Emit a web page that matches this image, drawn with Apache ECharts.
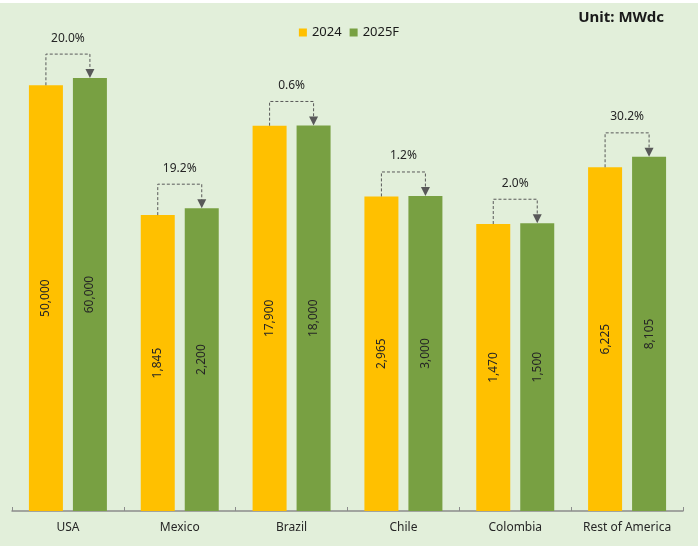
<!DOCTYPE html>
<html>
<head>
<meta charset="utf-8">
<script src="https://cdn.jsdelivr.net/npm/echarts@6/dist/echarts.min.js"></script>
<style>
  html, body { margin: 0; padding: 0; background: #fff; }
  #chart { width: 698px; height: 546px; }
</style>
</head>
<body>
<div id="chart"></div>
<script>
const regions = ['USA', 'Mexico', 'Brazil', 'Chile', 'Colombia', 'Rest of America'];
const values2024 = [50000, 1845, 17900, 2965, 1470, 6225];
const values2025 = [60000, 2200, 18000, 3000, 1500, 8105];
const growthLabels = ['20.0%', '19.2%', '0.6%', '1.2%', '2.0%', '30.2%'];

const YELLOW = '#FFC000';
const GREEN = '#78A042';
const FONT = '"Noto Sans", sans-serif';

const chart = echarts.init(document.getElementById('chart'));

// bar width / gap as fractions of the category band
const BAR_FRAC = 0.304;
const GAP_FRAC = 0.294;

const bracketData = regions.map((r, i) => [i, values2024[i], values2025[i], growthLabels[i]]);

const renderBracket = (params, api) => {
  const i = api.value(0);
  const band = api.size([1, 0])[0];
  const bw = band * BAR_FRAC;
  const off = (bw + bw * GAP_FRAC) / 2;
  const p1 = api.coord([i, api.value(1)]);
  const p2 = api.coord([i, api.value(2)]);
  const x1 = p1[0] - off;
  const x2 = p1[0] + off;
  const yTop = Math.min(p1[1], p2[1]) - 24;
  const lineStyle = { stroke: '#595959', lineWidth: 1, lineDash: [3, 2], fill: null };
  return {
    type: 'group',
    children: [
      {
        type: 'polyline',
        shape: { points: [[x1, p1[1]], [x1, yTop], [x2, yTop], [x2, p2[1] - 7]] },
        style: lineStyle
      },
      {
        type: 'polygon',
        shape: { points: [[x2 - 4.5, p2[1] - 9], [x2 + 4.5, p2[1] - 9], [x2, p2[1]]] },
        style: { fill: '#595959' }
      },
      {
        type: 'text',
        x: p1[0],
        y: yTop - 16,
        style: {
          text: api.value(3),
          fill: '#262626',
          font: '12px ' + FONT,
          align: 'center',
          verticalAlign: 'middle'
        }
      }
    ]
  };
};

const barLabel = {
  show: true,
  position: 'inside',
  rotate: 90,
  color: '#262626',
  fontSize: 12,
  fontFamily: FONT,
  formatter: p => p.value.toLocaleString('en-US')
};

const option = {
  backgroundColor: '#E2EFDA',
  animation: false,
  graphic: [
    { type: 'rect', left: 0, top: 0, shape: { width: 698, height: 3 }, style: { fill: '#fff' } },
    {
      type: 'text',
      right: 34,
      top: 10,
      style: { text: 'Unit: MWdc', fill: '#1a1a1a', font: 'bold 15px ' + FONT }
    }
  ],
  legend: {
    top: 21,
    left: 'center',
    itemWidth: 8,
    itemHeight: 8,
    itemGap: 8,
    icon: 'rect',
    textStyle: { color: '#1a1a1a', fontSize: 13, fontFamily: FONT },
    data: ['2024', '2025F']
  },
  grid: { left: 12, right: 15, top: 58, bottom: 35 },
  xAxis: {
    type: 'category',
    data: regions,
    axisLine: { lineStyle: { color: '#8c8c8c', width: 1.5 } },
    axisTick: { show: true, inside: true, length: 4, interval: 0, lineStyle: { color: '#8c8c8c' } },
    axisLabel: { color: '#262626', fontSize: 12, fontFamily: FONT, margin: 11, interval: 0 }
  },
  yAxis: {
    type: 'log',
    logBase: 10,
    min: 1,
    max: 100000,
    show: false,
    splitLine: { show: false }
  },
  series: [
    {
      name: '2024',
      type: 'bar',
      data: values2024,
      barWidth: (BAR_FRAC * 100) + '%',
      barGap: (GAP_FRAC * 100) + '%',
      itemStyle: { color: YELLOW },
      label: barLabel
    },
    {
      name: '2025F',
      type: 'bar',
      data: values2025,
      barWidth: (BAR_FRAC * 100) + '%',
      barGap: (GAP_FRAC * 100) + '%',
      itemStyle: { color: GREEN },
      label: barLabel
    },
    {
      type: 'custom',
      renderItem: renderBracket,
      data: bracketData,
      encode: { x: 0, y: 1 },
      z: 5,
      silent: true
    }
  ]
};

chart.setOption(option);
</script>
</body>
</html>
